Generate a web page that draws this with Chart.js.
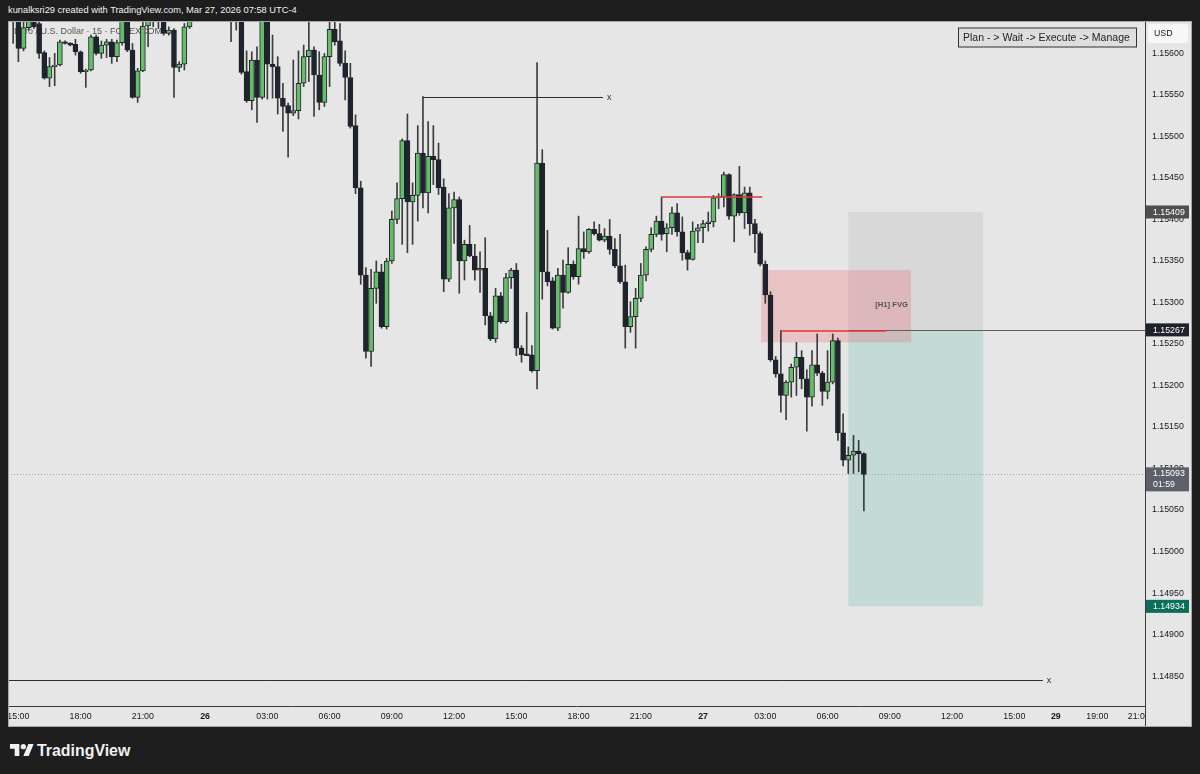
<!DOCTYPE html>
<html>
<head>
<meta charset="utf-8">
<script src="https://cdn.jsdelivr.net/npm/chart.js@4.4.1/dist/chart.umd.min.js"></script>
<style>
  html, body { margin: 0; padding: 0; }
  body { width: 1200px; height: 774px; background: #1e1e1e; position: relative; overflow: hidden; font-family: 'Liberation Sans', Arial, sans-serif; }
  #title { position: absolute; left: 8px; top: 2px; color: #f2f2f2; font-size: 9.3px; line-height: 16px; white-space: nowrap; }
  #chart { position: absolute; left: 8px; top: 21px; }
  #brand { position: absolute; left: 10px; top: 743px; height: 16px; color: #f0f0f0; }
  #brand svg { position: absolute; left: 0; top: 1px; }
  #brand span { position: absolute; left: 27px; top: 0; font-weight: bold; font-size: 15.9px; line-height: 1; white-space: nowrap; }
</style>
</head>
<body>
<div id="title">kunalksri29 created with TradingView.com, Mar 27, 2026 07:58 UTC-4</div>
<canvas id="chart" width="1184" height="706"></canvas>
<div id="brand">
  <svg width="24" height="12" viewBox="0 4 36 18"><path fill="#f0f0f0" d="M14 22H7V11H0V4h14v18zM28 22h-8l7.5-18h8L28 22z"/><circle fill="#f0f0f0" cx="20" cy="8" r="4"/></svg>
  <span>TradingView</span>
</div>
<script>
// EUR/USD 15m candles, bar index 0 = Mar 25 15:00
const firstBar = -1;
const opens = [
  1.15665, 1.15660, 1.15606, 1.15631, 1.15650, 1.15636, 1.15601, 1.15570, 1.15584, 1.15586,
  1.15614, 1.15612, 1.15611, 1.15602, 1.15578, 1.15580, 1.15620, 1.15600, 1.15610, 1.15614,
  1.15596, 1.15613, 1.15650, 1.15604, 1.15547, 1.15579, 1.15633, 1.15650, 1.15665, 1.15655,
  1.15624, 1.15628, 1.15583, 1.15587, 1.15632, 1.15645, 1.15680, 1.15665, 1.15685, 1.15675,
  1.15660, 1.15670, 1.15660, 1.15650, 1.15660, 1.15578, 1.15543, 1.15592, 1.15547, 1.15650,
  1.15587, 1.15584, 1.15546, 1.15537, 1.15528, 1.15531, 1.15564, 1.15596, 1.15604, 1.15574,
  1.15541, 1.15596, 1.15629, 1.15615, 1.15588, 1.15571, 1.15513, 1.15438, 1.15333, 1.15241,
  1.15317, 1.15337, 1.15271, 1.15350, 1.15400, 1.15425, 1.15495, 1.15421, 1.15429, 1.15480,
  1.15432, 1.15476, 1.15472, 1.15439, 1.15328, 1.15414, 1.15424, 1.15350, 1.15370, 1.15356,
  1.15339, 1.15341, 1.15284, 1.15256, 1.15308, 1.15277, 1.15330, 1.15339, 1.15245, 1.15238,
  1.15237, 1.15218, 1.15468, 1.15337, 1.15326, 1.15269, 1.15333, 1.15312, 1.15346, 1.15331,
  1.15365, 1.15361, 1.15388, 1.15383, 1.15375, 1.15380, 1.15364, 1.15344, 1.15325, 1.15271,
  1.15283, 1.15305, 1.15333, 1.15364, 1.15382, 1.15398, 1.15383, 1.15390, 1.15408, 1.15385,
  1.15360, 1.15352, 1.15386, 1.15390, 1.15395, 1.15397, 1.15426, 1.15427, 1.15454, 1.15404,
  1.15430, 1.15408, 1.15432, 1.15395, 1.15383, 1.15346, 1.15309, 1.15231, 1.15214, 1.15188,
  1.15204, 1.15222, 1.15234, 1.15208, 1.15186, 1.15225, 1.15215, 1.15193, 1.15204, 1.15254,
  1.15143, 1.15110, 1.15116, 1.15121, 1.15118
];
const highs = [
  1.15680, 1.15670, 1.15640, 1.15655, 1.15660, 1.15645, 1.15603, 1.15595, 1.15600, 1.15616,
  1.15615, 1.15613, 1.15617, 1.15603, 1.15581, 1.15622, 1.15622, 1.15615, 1.15617, 1.15617,
  1.15616, 1.15660, 1.15660, 1.15612, 1.15582, 1.15640, 1.15660, 1.15670, 1.15675, 1.15665,
  1.15632, 1.15630, 1.15590, 1.15636, 1.15660, 1.15690, 1.15700, 1.15690, 1.15710, 1.15690,
  1.15680, 1.15680, 1.15670, 1.15670, 1.15670, 1.15603, 1.15602, 1.15608, 1.15660, 1.15660,
  1.15622, 1.15596, 1.15564, 1.15540, 1.15592, 1.15603, 1.15610, 1.15640, 1.15608, 1.15602,
  1.15600, 1.15640, 1.15640, 1.15636, 1.15603, 1.15588, 1.15526, 1.15446, 1.15342, 1.15340,
  1.15350, 1.15346, 1.15353, 1.15410, 1.15444, 1.15497, 1.15527, 1.15444, 1.15513, 1.15548,
  1.15518, 1.15513, 1.15492, 1.15449, 1.15431, 1.15433, 1.15427, 1.15375, 1.15393, 1.15370,
  1.15361, 1.15378, 1.15288, 1.15317, 1.15312, 1.15335, 1.15341, 1.15347, 1.15248, 1.15288,
  1.15248, 1.15589, 1.15484, 1.15387, 1.15330, 1.15341, 1.15351, 1.15366, 1.15350, 1.15404,
  1.15385, 1.15389, 1.15397, 1.15394, 1.15389, 1.15400, 1.15377, 1.15382, 1.15345, 1.15301,
  1.15317, 1.15347, 1.15367, 1.15390, 1.15404, 1.15427, 1.15395, 1.15415, 1.15419, 1.15403,
  1.15363, 1.15397, 1.15394, 1.15399, 1.15409, 1.15429, 1.15431, 1.15457, 1.15455, 1.15431,
  1.15464, 1.15439, 1.15439, 1.15400, 1.15385, 1.15350, 1.15313, 1.15235, 1.15266, 1.15206,
  1.15226, 1.15252, 1.15242, 1.15219, 1.15242, 1.15262, 1.15217, 1.15242, 1.15262, 1.15257,
  1.15166, 1.15126, 1.15140, 1.15134, 1.15119
];
const lows = [
  1.15612, 1.15590, 1.15603, 1.15628, 1.15630, 1.15594, 1.15569, 1.15560, 1.15561, 1.15585,
  1.15611, 1.15609, 1.15598, 1.15576, 1.15559, 1.15579, 1.15598, 1.15594, 1.15595, 1.15588,
  1.15590, 1.15610, 1.15602, 1.15546, 1.15541, 1.15578, 1.15608, 1.15632, 1.15630, 1.15622,
  1.15622, 1.15547, 1.15578, 1.15580, 1.15630, 1.15641, 1.15660, 1.15650, 1.15670, 1.15655,
  1.15645, 1.15650, 1.15614, 1.15628, 1.15575, 1.15541, 1.15532, 1.15517, 1.15545, 1.15545,
  1.15546, 1.15527, 1.15506, 1.15475, 1.15525, 1.15521, 1.15560, 1.15566, 1.15524, 1.15532,
  1.15536, 1.15560, 1.15610, 1.15585, 1.15544, 1.15510, 1.15431, 1.15322, 1.15233, 1.15223,
  1.15299, 1.15269, 1.15268, 1.15347, 1.15395, 1.15370, 1.15360, 1.15370, 1.15398, 1.15414,
  1.15408, 1.15442, 1.15430, 1.15313, 1.15325, 1.15371, 1.15311, 1.15327, 1.15355, 1.15327,
  1.15312, 1.15273, 1.15254, 1.15252, 1.15275, 1.15275, 1.15317, 1.15236, 1.15228, 1.15236,
  1.15216, 1.15196, 1.15304, 1.15320, 1.15268, 1.15266, 1.15293, 1.15311, 1.15328, 1.15322,
  1.15353, 1.15359, 1.15381, 1.15374, 1.15373, 1.15358, 1.15342, 1.15323, 1.15245, 1.15264,
  1.15245, 1.15301, 1.15326, 1.15361, 1.15379, 1.15375, 1.15361, 1.15382, 1.15380, 1.15351,
  1.15339, 1.15351, 1.15372, 1.15372, 1.15386, 1.15391, 1.15413, 1.15415, 1.15400, 1.15373,
  1.15405, 1.15389, 1.15381, 1.15360, 1.15344, 1.15299, 1.15229, 1.15210, 1.15168, 1.15159,
  1.15186, 1.15188, 1.15196, 1.15145, 1.15175, 1.15212, 1.15176, 1.15184, 1.15202, 1.15134,
  1.15103, 1.15094, 1.15094, 1.15096, 1.15049
];
const closes = [
  1.15650, 1.15606, 1.15631, 1.15645, 1.15632, 1.15600, 1.15570, 1.15584, 1.15586, 1.15614,
  1.15612, 1.15610, 1.15602, 1.15578, 1.15580, 1.15620, 1.15600, 1.15610, 1.15614, 1.15596,
  1.15613, 1.15650, 1.15604, 1.15547, 1.15579, 1.15633, 1.15645, 1.15660, 1.15650, 1.15624,
  1.15628, 1.15583, 1.15587, 1.15632, 1.15645, 1.15680, 1.15665, 1.15685, 1.15675, 1.15660,
  1.15670, 1.15660, 1.15650, 1.15660, 1.15577, 1.15543, 1.15592, 1.15547, 1.15650, 1.15587,
  1.15584, 1.15546, 1.15536, 1.15528, 1.15531, 1.15564, 1.15596, 1.15604, 1.15574, 1.15541,
  1.15596, 1.15629, 1.15614, 1.15588, 1.15571, 1.15512, 1.15438, 1.15333, 1.15241, 1.15317,
  1.15337, 1.15271, 1.15350, 1.15400, 1.15425, 1.15495, 1.15421, 1.15429, 1.15480, 1.15432,
  1.15476, 1.15472, 1.15438, 1.15328, 1.15414, 1.15424, 1.15350, 1.15370, 1.15356, 1.15339,
  1.15341, 1.15284, 1.15256, 1.15308, 1.15277, 1.15330, 1.15339, 1.15245, 1.15237, 1.15236,
  1.15218, 1.15468, 1.15337, 1.15325, 1.15269, 1.15333, 1.15312, 1.15346, 1.15331, 1.15365,
  1.15361, 1.15388, 1.15383, 1.15375, 1.15380, 1.15364, 1.15344, 1.15325, 1.15271, 1.15283,
  1.15305, 1.15333, 1.15364, 1.15382, 1.15398, 1.15382, 1.15390, 1.15408, 1.15385, 1.15360,
  1.15352, 1.15386, 1.15390, 1.15395, 1.15397, 1.15426, 1.15427, 1.15454, 1.15404, 1.15430,
  1.15408, 1.15432, 1.15395, 1.15383, 1.15346, 1.15309, 1.15231, 1.15214, 1.15188, 1.15204,
  1.15222, 1.15234, 1.15208, 1.15186, 1.15225, 1.15215, 1.15193, 1.15204, 1.15254, 1.15143,
  1.15110, 1.15116, 1.15121, 1.15118, 1.15093
];

// axes
const priceTicks = [1.14850, 1.14900, 1.14950, 1.15000, 1.15050, 1.15100, 1.15150, 1.15200,
  1.15250, 1.15300, 1.15350, 1.15400, 1.15450, 1.15500, 1.15550, 1.15600];
const timeTickBars = [0, 12, 24, 36, 48, 60, 72, 84, 96, 108, 120, 132, 144, 156, 168, 180, 192, 200, 208, 216];
const timeTickLabels = ['15:00', '18:00', '21:00', '26', '03:00', '06:00', '09:00', '12:00', '15:00', '18:00',
  '21:00', '27', '03:00', '06:00', '09:00', '12:00', '15:00', '29', '19:00', '21:00'];
const dayLabels = ['26', '27', '29'];

// drawings (bar index / price)
const lastPrice = 1.15093, countdown = '01:59';
const stopPrice = 1.15409, entryPrice = 1.15267, targetPrice = 1.14934;
const positionBars = [160, 186];
const fvgBars = [143.2, 172.1], fvgPrices = [1.15339, 1.15252];
const redLevels = [[124, 143.4, 1.15427], [147, 167.3, 1.15266]];
const blackLevels = [[78, 112.7, 1.15548], [-3, 197.5, 1.14845]];

const FONT = "'Liberation Sans', Arial, sans-serif";
const UP = '#66bd69', DOWN = '#1f232d';

const bars = opens.map((o, i) => firstBar + i);
const wickData = bars.map((x, i) => ({x: x, y: [lows[i], highs[i]]}));
const bodyData = bars.map((x, i) => ({x: x, y: [opens[i], closes[i]]}));
const bodyColors = opens.map((o, i) => closes[i] >= o ? UP : DOWN);

function tag(ctx, area, y, text, bg, sub) {
  const h = sub ? 24 : 13;
  const top = sub ? y - 7 : y - h / 2;
  ctx.fillStyle = bg;
  ctx.fillRect(area.right + 1, top, 43, h);
  ctx.fillStyle = '#ffffff';
  ctx.font = '8.8px ' + FONT;
  ctx.textAlign = 'left';
  ctx.textBaseline = 'middle';
  ctx.fillText(text, area.right + 8, sub ? top + 6.5 : y + 0.5);
  if (sub) ctx.fillText(sub, area.right + 8, top + 17.5);
}

const overlay = {
  id: 'overlay',
  beforeDraw(chart) {
    const c = chart.ctx;
    c.save();
    c.fillStyle = '#e6e6e6';
    c.fillRect(0, 0, chart.width, chart.height);
    c.restore();
  },
  beforeDatasetsDraw(chart) {
    const c = chart.ctx, a = chart.chartArea, xs = chart.scales.x, ys = chart.scales.y;
    c.save();
    c.beginPath(); c.rect(a.left, a.top, a.right - a.left, a.bottom - a.top); c.clip();
    // watermark
    c.fillStyle = 'rgba(45,45,45,0.8)';
    c.font = '9px ' + FONT;
    c.textBaseline = 'middle';
    c.fillText('Euro / U.S. Dollar · 15 · FOREXCOM', a.left + 6, a.top + 11);
    // position tool
    const px0 = xs.getPixelForValue(positionBars[0]), px1 = xs.getPixelForValue(positionBars[1]);
    const yStop = ys.getPixelForValue(stopPrice), yEntry = ys.getPixelForValue(entryPrice), yTarget = ys.getPixelForValue(targetPrice);
    c.fillStyle = 'rgba(120,123,134,0.13)';
    c.fillRect(px0, yStop, px1 - px0, yEntry - yStop);
    c.fillStyle = 'rgba(8,153,129,0.15)';
    c.fillRect(px0, yEntry, px1 - px0, yTarget - yEntry);
    // FVG
    const fx0 = xs.getPixelForValue(fvgBars[0]), fx1 = xs.getPixelForValue(fvgBars[1]);
    const fy0 = ys.getPixelForValue(fvgPrices[0]), fy1 = ys.getPixelForValue(fvgPrices[1]);
    c.fillStyle = 'rgba(242,54,69,0.2)';
    c.fillRect(fx0, fy0, fx1 - fx0, fy1 - fy0);
    c.fillStyle = '#555555';
    c.font = 'bold 7.7px ' + FONT;
    c.textAlign = 'right';
    c.fillText('[H1] FVG', fx1 - 3, (fy0 + fy1) / 2 - 1);
    // last price dotted line
    const yl = Math.round(ys.getPixelForValue(lastPrice)) + 0.5;
    c.strokeStyle = '#a4a4a4'; c.lineWidth = 1; c.setLineDash([1, 2]);
    c.beginPath(); c.moveTo(a.left, yl); c.lineTo(a.right, yl); c.stroke();
    c.restore();
  },
  afterDatasetsDraw(chart) {
    const c = chart.ctx, a = chart.chartArea, xs = chart.scales.x, ys = chart.scales.y;
    c.save();
    c.beginPath(); c.rect(a.left, a.top, a.right - a.left, a.bottom - a.top); c.clip();
    // entry line
    const ye = Math.round(ys.getPixelForValue(entryPrice)) + 0.5;
    c.strokeStyle = '#5f5f5f'; c.lineWidth = 1;
    c.beginPath(); c.moveTo(xs.getPixelForValue(positionBars[0]), ye); c.lineTo(a.right, ye); c.stroke();
    // black levels with x marks
    c.strokeStyle = '#2e2e2e';
    c.fillStyle = '#2e2e2e';
    c.font = '9px ' + FONT;
    c.textAlign = 'left';
    c.textBaseline = 'middle';
    blackLevels.forEach(l => {
      const y = Math.round(ys.getPixelForValue(l[2])) + 0.5;
      const x1 = xs.getPixelForValue(l[1]);
      c.beginPath(); c.moveTo(xs.getPixelForValue(l[0]), y); c.lineTo(x1, y); c.stroke();
      c.fillText('x', x1 + 4, y);
    });
    // red levels
    c.strokeStyle = '#e3343c'; c.lineWidth = 1.5;
    redLevels.forEach(l => {
      const y = Math.round(ys.getPixelForValue(l[2]));
      c.beginPath(); c.moveTo(xs.getPixelForValue(l[0]), y); c.lineTo(xs.getPixelForValue(l[1]), y); c.stroke();
    });
    c.restore();
  },
  afterDraw(chart) {
    const c = chart.ctx, a = chart.chartArea, ys = chart.scales.y;
    c.save();
    // corner under the price scale
    c.fillStyle = '#e6e6e6';
    c.fillRect(a.right + 1, a.bottom + 1, chart.width - a.right, chart.height - a.bottom);
    c.strokeStyle = '#3a3a3a'; c.lineWidth = 1;
    c.beginPath(); c.moveTo(a.right + 0.5, 0); c.lineTo(a.right + 0.5, chart.height); c.stroke();
    c.beginPath(); c.moveTo(0, a.bottom + 0.5); c.lineTo(a.right, a.bottom + 0.5); c.stroke();
    c.strokeStyle = '#a8a8a8';
    c.strokeRect(0.5, 0.5, chart.width - 1, chart.height - 1);
    // price tags
    tag(c, a, ys.getPixelForValue(stopPrice), stopPrice.toFixed(5), '#4f4f4f');
    tag(c, a, ys.getPixelForValue(entryPrice), entryPrice.toFixed(5), '#1e222d');
    tag(c, a, ys.getPixelForValue(lastPrice), lastPrice.toFixed(5), '#5d606b', countdown);
    tag(c, a, ys.getPixelForValue(targetPrice), targetPrice.toFixed(5), '#0b6e5a');
    // currency box
    c.fillStyle = '#f7f7f7';
    c.beginPath(); c.roundRect(a.right + 3, 3, 40, 19, 3); c.fill();
    c.fillStyle = '#131722';
    c.font = '8.8px ' + FONT;
    c.textAlign = 'left'; c.textBaseline = 'middle';
    c.fillText('USD', a.right + 9, 12.5);
    // note box
    const bx = a.right - 187, by = a.top + 6.5;
    c.fillStyle = '#dedede';
    c.fillRect(bx, by, 179, 20);
    c.strokeStyle = '#333333';
    c.strokeRect(bx + 0.5, by + 0.5, 178, 19);
    c.fillStyle = '#1c1c1c';
    c.font = '10.5px ' + FONT;
    c.fillText('Plan - > Wait -> Execute -> Manage', bx + 5, by + 10.5);
    c.restore();
  }
};

new Chart(document.getElementById('chart'), {
  type: 'bar',
  data: {
    datasets: [
      {data: wickData, backgroundColor: '#3c3c3c', barThickness: 1, grouped: false, clip: 0, order: 2},
      {data: bodyData, backgroundColor: bodyColors, borderColor: DOWN, borderWidth: 1, borderSkipped: false,
       barThickness: 5, minBarLength: 1, grouped: false, clip: 0, order: 1}
    ]
  },
  options: {
    responsive: false,
    animation: false,
    devicePixelRatio: 1,
    layout: {padding: 0, autoPadding: false},
    plugins: {legend: {display: false}, tooltip: {enabled: false}},
    scales: {
      x: {
        type: 'linear', min: -2, max: 217.2, offset: false,
        grid: {display: false, drawTicks: false},
        border: {display: false},
        ticks: {
          autoSkip: false, maxRotation: 0, minRotation: 0, padding: 5, color: '#131722',
          font: c => ({size: 8.8, family: FONT, weight: dayLabels.includes(timeTickLabels[c.index]) ? 'bold' : 'normal'}),
          callback: (v, i) => timeTickLabels[i]
        },
        afterBuildTicks: s => { s.ticks = timeTickBars.map(v => ({value: v})); },
        afterFit: s => { s.height = 21; s.paddingLeft = 0; s.paddingRight = 0; }
      },
      y: {
        position: 'right', min: 1.14814, max: 1.15639,
        grid: {display: false, drawTicks: false},
        border: {display: false},
        ticks: {padding: 7, color: '#131722', font: {size: 8.8, family: FONT}, callback: v => v.toFixed(5)},
        afterBuildTicks: s => { s.ticks = priceTicks.map(v => ({value: v})); },
        afterFit: s => { s.width = 47; s.paddingTop = 0; s.paddingBottom = 0; }
      }
    }
  },
  plugins: [overlay]
});
</script>
</body>
</html>
